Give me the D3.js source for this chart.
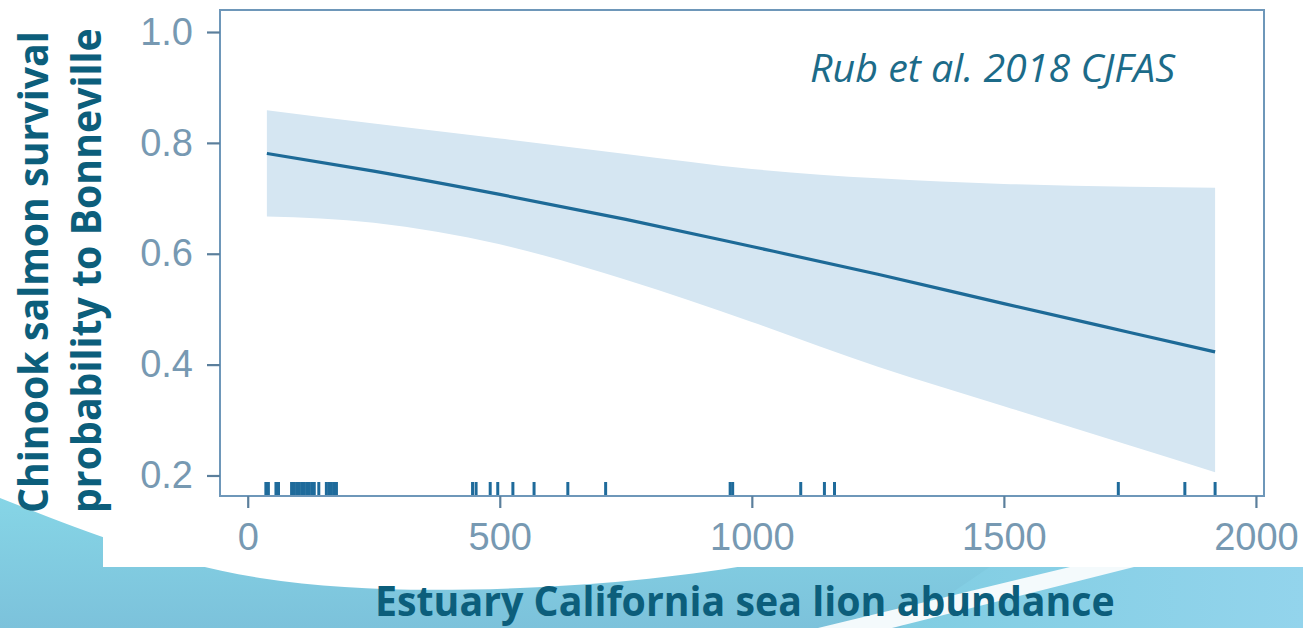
<!DOCTYPE html>
<html>
<head>
<meta charset="utf-8">
<script src="https://cdn.jsdelivr.net/npm/d3@7"></script>
<style>
  html, body { margin: 0; padding: 0; background: #ffffff; }
  svg { display: block; }
</style>
</head>
<body>
<svg id="chart" width="1303" height="628"></svg>
<script>
// Fitted survival curve with its confidence band (sea lion abundance on x)
const fitX   = [38, 250, 500, 750, 1000, 1250, 1500, 1750, 1919];
const fitP   = [0.781, 0.749, 0.707, 0.662, 0.613, 0.563, 0.510, 0.458, 0.423];
const upperP = [0.859, 0.835, 0.808, 0.780, 0.753, 0.736, 0.726, 0.721, 0.719];
const lowerP = [0.667, 0.656, 0.617, 0.553, 0.477, 0.396, 0.325, 0.254, 0.206];

// Observed abundance values shown as a rug along the x axis
const rugX = [36, 41, 56, 61, 87, 92, 97, 102, 107, 112, 117, 122, 127, 132, 141,
              156, 161, 166, 171, 176,
              446, 453, 481, 496, 526, 568, 635, 710, 957, 962, 1097, 1144, 1164,
              1727, 1859, 1919];

const xTicks = [0, 500, 1000, 1500, 2000];
const yTicks = [0.2, 0.4, 0.6, 0.8, 1.0];

const yTitleLines = ["Chinook salmon survival", "probability to Bonneville"];
const xTitle = "Estuary California sea lion abundance";
const citation = "Rub et al. 2018 CJFAS";

const svg = d3.select("#chart");
const W = 1303, H = 628;

// ---- slide background decoration ----
const defs = svg.append("defs");
const grad = defs.append("linearGradient").attr("id", "wave")
  .attr("x1", 0).attr("y1", 0).attr("x2", 0).attr("y2", 1);
grad.append("stop").attr("offset", "0%").attr("stop-color", "#86d5e6");
grad.append("stop").attr("offset", "100%").attr("stop-color", "#7cc2db");
const grad2 = defs.append("linearGradient").attr("id", "wave2")
  .attr("x1", 0).attr("y1", 0).attr("x2", 1).attr("y2", 0);
grad2.append("stop").attr("offset", "0%").attr("stop-color", "#80cde2");
grad2.append("stop").attr("offset", "100%").attr("stop-color", "#93d4ec");

svg.append("rect").attr("width", W).attr("height", H).attr("fill", "#ffffff");

svg.append("path")
  .attr("d", "M0,498 C70,525 150,560 260,578 C340,590 420,592 520,588 C620,584 700,574 780,560 L1303,560 L1303,628 L0,628 Z")
  .attr("fill", "url(#wave)");
svg.append("path")
  .attr("d", "M1000,560 L1303,560 L1303,628 L900,628 Z")
  .attr("fill", "url(#wave2)");
// light diagonal streak
svg.append("path")
  .attr("d", "M818,628 L1070,567 L1134,567 L892,628 Z")
  .attr("fill", "#f4fafc");

// white chart card
svg.append("rect").attr("x", 103).attr("y", 0).attr("width", W - 103).attr("height", 567)
  .attr("fill", "#ffffff");

// ---- plot panel ----
const P = { left: 220, right: 1264, top: 10, bottom: 496 };
const x = d3.scaleLinear().domain([-55, 2016]).range([P.left, P.right]);
const y = d3.scaleLinear().domain([0.163, 1.0397]).range([P.bottom, P.top]);

const rows = fitX.map((v, i) => ({ x: v, p: fitP[i], lo: lowerP[i], hi: upperP[i] }));

svg.append("path")
  .datum(rows)
  .attr("d", d3.area().x(d => x(d.x)).y0(d => y(d.lo)).y1(d => y(d.hi)).curve(d3.curveMonotoneX))
  .attr("fill", "#d5e6f2");

svg.append("path")
  .datum(rows)
  .attr("d", d3.line().x(d => x(d.x)).y(d => y(d.p)).curve(d3.curveMonotoneX))
  .attr("fill", "none")
  .attr("stroke", "#1d6a97")
  .attr("stroke-width", 3.2);

svg.append("g").selectAll("line").data(rugX).join("line")
  .attr("x1", d => x(d)).attr("x2", d => x(d))
  .attr("y1", P.bottom - 14).attr("y2", P.bottom)
  .attr("stroke", "#1f6b9b")
  .attr("stroke-width", 3);

// panel border
svg.append("rect")
  .attr("x", P.left).attr("y", P.top)
  .attr("width", P.right - P.left).attr("height", P.bottom - P.top)
  .attr("fill", "none")
  .attr("stroke", "#6e97b9")
  .attr("stroke-width", 2);

// axes
const tickColor = "#5b7f9c";
const labelColor = "#7799b2";

const gy = svg.append("g").attr("transform", `translate(${P.left},0)`)
  .call(d3.axisLeft(y).tickValues(yTicks).tickFormat(d3.format(".1f")).tickSize(13).tickPadding(14));
const gx = svg.append("g").attr("transform", `translate(0,${P.bottom})`)
  .call(d3.axisBottom(x).tickValues(xTicks).tickFormat(d3.format("d")).tickSize(12).tickPadding(15));

[gx, gy].forEach(g => {
  g.select(".domain").remove();
  g.selectAll(".tick line").attr("stroke", tickColor).attr("stroke-width", 2.2);
  g.selectAll(".tick text")
    .attr("fill", labelColor)
    .style("font-family", "'Liberation Sans', Arial, sans-serif")
    .style("font-size", "38px");
});

// citation
svg.append("text")
  .attr("x", 810).attr("y", 82)
  .attr("textLength", 365).attr("lengthAdjust", "spacingAndGlyphs")
  .attr("fill", "#1c6b89")
  .style("font-family", "'Open Sans', sans-serif")
  .style("font-style", "italic")
  .style("font-size", "38px")
  .text(citation);

// axis titles: condensed horizontally to a target run length
const titleColor = "#0c5e7b";
function condensedText(t, size, targetLen, place) {
  const g = svg.append("g");
  const txt = g.append("text")
    .attr("fill", titleColor)
    .style("font-family", "'Open Sans', sans-serif")
    .style("font-weight", 700)
    .style("font-size", size + "px")
    .text(t);
  const natural = txt.node().getComputedTextLength();
  g.attr("transform", place + ` scale(${targetLen / natural},1)`);
}

condensedText(xTitle, 41, 740, "translate(375,616)");
condensedText(yTitleLines[0], 42, 482, "translate(48,513) rotate(-90)");
condensedText(yTitleLines[1], 42, 485, "translate(101,513) rotate(-90)");
</script>
</body>
</html>
